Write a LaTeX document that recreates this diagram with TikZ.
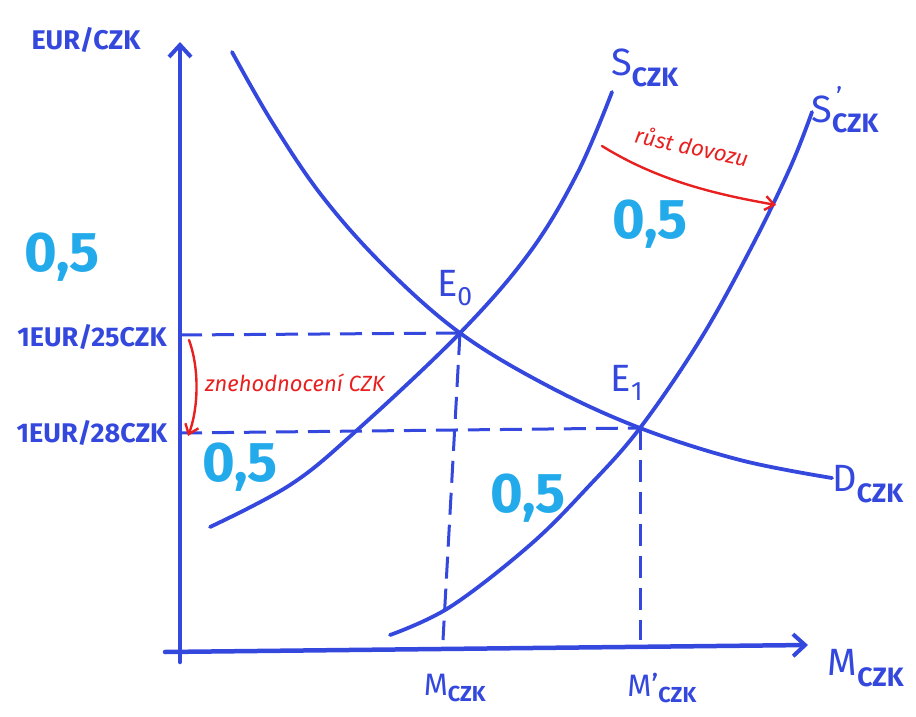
\documentclass[tikz,border=0pt]{standalone}
\usepackage{fontspec}
\setmainfont{Fira Sans}
\usetikzlibrary{arrows.meta}
\definecolor{pen}{RGB}{52,72,222}
\definecolor{cyanpen}{RGB}{35,170,235}
\definecolor{redpen}{RGB}{232,32,32}
\tikzset{
  axisline/.style={pen, line width=4.5pt, line cap=round, -{Straight Barb[length=12pt,width=22pt,line width=4pt]}},
  curveline/.style={pen, line width=3.8pt, line cap=round},
  guide/.style={pen, line width=3pt, dash pattern=on 22pt off 10pt},
  redarrow/.style={redpen, line width=2.4pt, line cap=round, -{Straight Barb[length=9pt,width=14pt,line width=2.4pt]}},
  lab/.style={text=pen, font=\fontsize{27}{30}\selectfont\bfseries, inner sep=0pt},
  biglab/.style={text=pen, font=\fontsize{38}{42}\selectfont, inner sep=0pt},
  redlab/.style={text=redpen, font=\fontsize{22}{26}\selectfont\itshape, inner sep=0pt},
  half/.style={text=cyanpen, font=\fontsize{56}{60}\selectfont\bfseries, inner sep=0pt}
}
\begin{document}
\begin{tikzpicture}[x=1pt,y=-1pt]
\useasboundingbox (0,0) rectangle (916,717);
% key points
\coordinate (ytop) at (180,42);
\coordinate (xleft) at (165,652);
\coordinate (xright) at (808,645);
\coordinate (ybot) at (180,662);
\coordinate (E0) at (460,333);
\coordinate (E1) at (640,428);
\coordinate (P25) at (180,335);
\coordinate (P28) at (180,433);
\coordinate (M0) at (443,640);
\coordinate (M1) at (640,640);
% axes
\draw[axisline] (ybot) -- (ytop);
\draw[axisline] (xleft) -- (xright);
% guides
\draw[guide] (P25) -- (E0);
\draw[guide] (E0) -- (M0);
\draw[guide] (P28) -- (E1);
\draw[guide] (E1) -- (M1);
% curves
\draw[curveline] plot[smooth, tension=0.6] coordinates {(232,52) (272,122) (322,196) (384,266) (E0) (548,386) (E1) (740,460) (832,478)};
\draw[curveline] plot[smooth, tension=0.6] coordinates {(210,527) (290,485) (355,432) (E0) (530,252) (578,172) (612,92)};
\draw[curveline] plot[smooth, tension=0.6] coordinates {(390,635) (450,607) (530,545) (588,487) (E1) (700,340) (750,250) (790,168) (812,112)};
% red arrows
\coordinate (r1s) at (602,146);
\coordinate (r1e) at (776,205);
\draw[redarrow] (r1s) .. controls (660,182) and (720,195) .. (r1e);
\coordinate (r2s) at (189,340);
\coordinate (r2e) at (188,436);
\draw[redarrow] (r2s) .. controls (200,370) and (198,410) .. (r2e);
% labels
\node[lab] (ylab) at (86,40) {EUR/CZK};
\node[lab] (l25) at (92,337) {1EUR/25CZK};
\node[lab] (l28) at (92,433) {1EUR/28CZK};
\node[biglab] (slab) at (645,68) {S\textsubscript{\bfseries CZK}};
\node[biglab] (s2lab) at (845,110) {S\textsuperscript{\,\raisebox{0.5ex}{'}}\textsubscript{\kern-0.4em\bfseries CZK}};
\node[biglab] (dlab) at (868,484) {D\textsubscript{\bfseries CZK}};
\node[biglab] (mlab) at (866,668) {M\textsubscript{\bfseries CZK}};
\node[lab, font=\fontsize{31}{34}\selectfont] (m0lab) at (455,688) {M\textsubscript{\bfseries CZK}};
\node[lab, font=\fontsize{31}{34}\selectfont] (m1lab) at (662,688) {M'\textsubscript{\bfseries CZK}};
\node[biglab] (e0lab) at (455,288) {E\textsubscript{0}};
\node[biglab] (e1lab) at (627,383) {E\textsubscript{1}};
\node[redlab, rotate=-12] (rt1) at (692,146) {růst dovozu};
\node[redlab] (rt2) at (295,383) {znehodnocení CZK};
\node[half] (h1) at (62,257) {0,5};
\node[half] (h2) at (650,224) {0,5};
\node[half] (h3) at (240,467) {0,5};
\node[half] (h4) at (528,498) {0,5};
\end{tikzpicture}
\end{document}
